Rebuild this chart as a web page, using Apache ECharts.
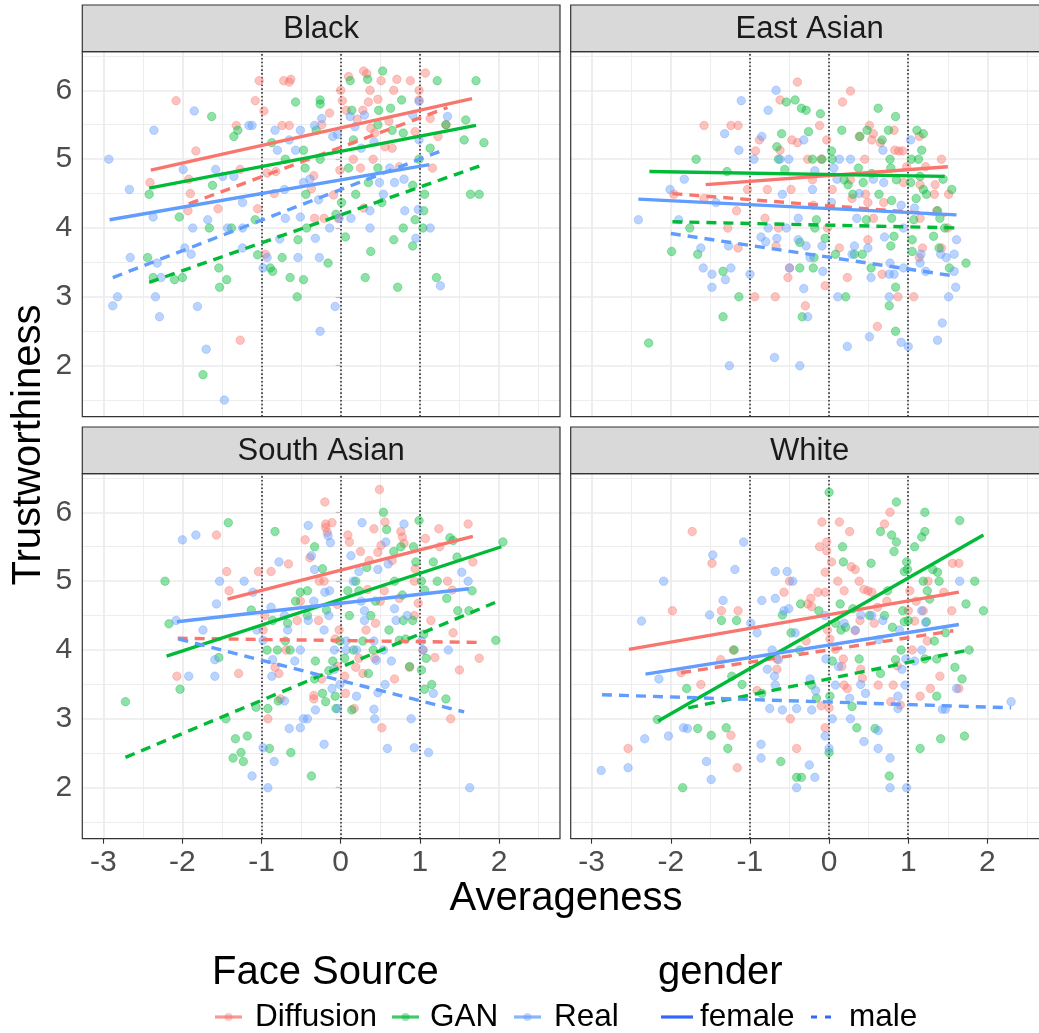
<!DOCTYPE html>
<html><head><meta charset="utf-8">
<script src="https://cdn.jsdelivr.net/npm/echarts@6/dist/echarts.min.js"></script>
<style>html,body{margin:0;padding:0;background:#fff}#c{width:1039px;height:1033px}</style>
</head><body><div id="c"></div>
<script>
// ---------- categories / ticks ----------
const panels = ['Black', 'East Asian', 'South Asian', 'White'];
const sources = ['Diffusion', 'GAN', 'Real'];
const genders = ['female', 'male'];
const xTicks = [-3, -2, -1, 0, 1, 2];
const yTicks = [2, 3, 4, 5, 6];
const refX = [-1, 0, 1];

// ---------- points [Averageness, Trustworthiness] ----------
const black_Diffusion = [[-2.08,5.85],[-2.41,4.66],[-1.83,5.12],[-1.90,4.50],[-1.93,4.25],[-1.92,4.71],[-1.55,4.28],[-1.27,2.37],[-1.27,4.85],[-1.32,5.49],[-1.08,5.85],[-1.03,6.14],[-0.97,5.70],[-1.05,4.28],[-0.95,3.62],[-0.93,4.80],[-0.84,4.50],[-0.82,4.82],[-0.74,5.49],[-0.65,5.49],[-0.72,6.14],[-0.63,6.16],[-0.65,6.12],[-0.34,4.76],[-0.37,4.57],[-0.33,4.14],[-0.21,4.14],[-0.24,5.50],[-0.14,5.67],[-0.09,4.48],[-0.03,4.14],[0.00,6.00],[0.02,5.85],[-0.01,4.84],[0.07,5.71],[0.10,6.20],[0.16,5.00],[0.21,5.58],[0.25,4.87],[0.28,5.71],[0.29,6.28],[0.33,6.24],[0.29,4.29],[0.37,6.00],[0.35,5.83],[0.41,5.00],[0.47,5.87],[0.51,6.14],[0.56,5.18],[0.65,5.16],[0.67,6.00],[0.71,6.16],[0.88,6.14],[0.74,4.89],[0.99,6.00],[1.07,6.25],[0.99,5.86],[1.13,5.59],[1.23,5.33],[1.16,4.87],[1.33,5.50],[0.94,5.40],[0.43,5.38],[0.38,5.45],[0.61,5.55]];
const black_GAN = [[-2.42,4.49],[-2.44,3.57],[-2.37,3.28],[-2.10,3.25],[-2.00,3.28],[-2.04,4.16],[-1.63,5.62],[-1.62,4.62],[-1.66,4.00],[-1.54,3.42],[-1.53,3.14],[-1.44,3.25],[-1.74,1.87],[-1.35,5.33],[-1.30,5.42],[-1.38,4.00],[-1.08,4.12],[-1.05,3.61],[-0.89,3.42],[-0.86,3.37],[-0.87,5.24],[-0.74,3.57],[-0.70,5.00],[-0.64,3.28],[-0.57,5.83],[-0.54,3.83],[-0.55,3.00],[-0.47,3.25],[-0.47,5.13],[-0.45,4.87],[-0.44,4.49],[-0.43,4.00],[-0.31,5.42],[-0.26,5.86],[-0.26,5.80],[-0.26,5.00],[-0.16,3.49],[-0.06,4.20],[0.01,4.37],[0.06,3.87],[0.12,6.14],[0.14,5.71],[0.10,4.87],[0.19,4.49],[0.16,5.28],[0.31,3.28],[0.34,6.16],[0.35,4.66],[0.38,3.66],[0.47,4.87],[0.48,5.71],[0.53,6.28],[0.52,4.37],[0.63,5.74],[0.65,5.42],[0.67,3.83],[0.72,3.14],[0.77,5.86],[0.79,4.00],[0.91,3.74],[0.91,4.62],[0.94,4.12],[0.99,5.00],[1.04,4.00],[1.06,4.49],[1.05,4.25],[1.13,5.16],[1.21,3.28],[1.22,6.14],[1.33,5.50],[1.56,5.28],[1.58,5.57],[1.64,4.49],[1.71,6.14],[1.75,4.49],[1.81,5.24],[0.47,5.50],[0.79,5.38]];
const black_Real = [[-2.93,5.00],[-2.88,2.87],[-2.82,3.00],[-2.67,4.56],[-2.66,3.57],[-2.36,5.42],[-2.37,4.16],[-2.32,3.49],[-2.34,3.00],[-2.29,2.71],[-2.27,3.28],[-1.99,4.85],[-1.97,3.71],[-1.89,3.62],[-1.87,4.00],[-1.85,5.70],[-1.81,2.86],[-1.70,2.24],[-1.68,4.12],[-1.58,4.85],[-1.49,4.75],[-1.43,4.00],[-1.47,1.50],[-1.35,4.75],[-1.24,4.37],[-1.24,4.00],[-1.24,3.71],[-1.16,5.49],[-1.12,5.49],[-0.98,3.42],[-0.93,3.57],[-0.83,5.42],[-0.80,5.13],[-0.77,3.84],[-0.70,4.14],[-0.71,4.56],[-0.65,5.28],[-0.57,5.13],[-0.54,3.57],[-0.51,5.42],[-0.51,4.16],[-0.47,4.66],[-0.39,4.71],[-0.32,3.85],[-0.33,5.49],[-0.28,4.41],[-0.27,3.57],[-0.26,2.50],[-0.24,5.59],[-0.14,4.00],[-0.10,5.33],[-0.07,2.86],[-0.04,5.36],[-0.02,4.14],[0.13,4.14],[0.12,5.62],[0.18,5.47],[0.26,5.16],[0.30,5.64],[0.37,4.25],[0.37,4.00],[0.42,5.25],[0.49,4.66],[0.54,4.49],[0.62,4.87],[0.68,4.66],[0.81,4.25],[0.80,4.71],[0.91,5.64],[0.95,3.85],[0.98,4.27],[0.99,5.84],[0.99,5.28],[1.13,4.00],[1.26,3.16],[1.35,5.62]];

const eastAsian_Diffusion = [[-1.58,5.49],[-1.24,5.49],[-1.15,5.49],[-1.96,4.49],[-1.58,4.43],[-1.17,4.25],[-1.28,4.00],[-1.15,3.71],[-1.03,4.56],[-0.94,3.00],[-0.93,5.12],[-0.88,5.28],[-0.78,4.56],[-0.81,4.14],[-0.68,3.00],[-0.67,3.74],[-0.62,5.86],[-0.62,5.13],[-0.64,4.00],[-0.52,3.28],[-0.50,3.42],[-0.48,4.56],[-0.47,5.28],[-0.40,6.12],[-0.40,5.24],[-0.30,2.87],[-0.27,5.00],[-0.21,4.70],[-0.20,4.33],[-0.12,5.49],[-0.10,5.00],[-0.05,3.16],[-0.03,5.28],[0.04,4.56],[-0.02,4.00],[0.13,3.71],[0.17,5.83],[0.23,3.28],[0.27,5.99],[0.27,4.70],[0.29,4.43],[0.38,5.33],[0.45,5.00],[0.46,4.49],[0.49,4.37],[0.49,3.83],[0.51,5.49],[0.54,5.28],[0.56,5.37],[0.56,4.14],[0.61,2.57],[0.65,5.24],[0.67,3.33],[0.69,4.37],[0.82,5.42],[0.83,5.13],[0.88,5.12],[0.93,5.12],[0.87,3.00],[0.94,4.66],[0.98,4.89],[1.07,3.00],[1.14,5.33],[1.15,4.63],[1.18,3.71],[1.14,3.57],[1.22,4.89],[1.33,4.49],[1.34,4.63],[1.42,5.00],[1.51,4.49],[1.50,4.00],[1.42,3.71],[1.36,4.25],[1.15,4.14]];
const eastAsian_GAN = [[-2.28,2.33],[-1.99,3.66],[-1.76,4.00],[-1.68,5.00],[-1.66,3.62],[-1.34,3.37],[-1.34,2.71],[-1.29,4.82],[-1.14,3.00],[-0.66,5.18],[-0.64,5.00],[-0.60,5.37],[-0.56,4.85],[-0.54,5.83],[-0.43,5.86],[-0.37,3.42],[-0.37,3.79],[-0.35,5.74],[-0.34,2.71],[-0.29,5.71],[-0.26,5.40],[-0.21,5.00],[-0.20,3.42],[-0.19,3.57],[-0.18,4.00],[-0.16,4.12],[-0.11,5.66],[-0.09,5.00],[-0.05,3.85],[0.03,5.12],[0.04,5.00],[0.08,3.62],[0.16,5.42],[0.19,4.70],[0.21,3.00],[0.24,4.63],[0.30,4.49],[0.32,3.62],[0.37,4.87],[0.39,5.33],[0.42,3.62],[0.43,4.66],[0.47,4.12],[0.48,5.42],[0.53,3.42],[0.54,4.79],[0.62,5.74],[0.63,4.49],[0.67,5.28],[0.75,5.42],[0.77,5.00],[0.78,4.87],[0.79,4.14],[0.78,3.74],[0.79,4.40],[0.76,2.87],[0.82,3.88],[0.84,5.62],[0.84,3.14],[0.84,2.50],[0.85,4.70],[1.03,4.66],[1.04,5.00],[1.05,3.83],[1.05,3.66],[1.07,4.12],[1.10,4.43],[1.11,5.42],[1.13,5.00],[1.15,4.75],[1.17,5.13],[1.19,5.37],[1.19,4.56],[1.23,4.49],[1.32,3.88],[1.37,4.25],[1.39,3.71],[1.44,4.71],[1.46,4.00],[1.52,3.42],[1.55,4.56],[1.73,3.49],[1.40,4.14]];
const eastAsian_Real = [[-2.41,4.12],[-2.01,4.56],[-1.90,4.12],[-1.83,4.71],[-1.62,3.71],[-1.59,3.42],[-1.48,3.33],[-1.48,3.14],[-1.43,4.37],[-1.32,5.37],[-1.31,3.25],[-1.27,3.74],[-1.26,2.00],[-1.24,3.42],[-1.14,5.13],[-1.11,5.85],[-1.00,3.33],[-0.95,5.00],[-0.86,3.87],[-0.85,5.33],[-0.80,3.80],[-0.77,5.71],[-0.77,4.00],[-0.69,2.12],[-0.67,6.00],[-0.66,3.85],[-0.62,5.00],[-0.59,4.49],[-0.54,4.00],[-0.51,5.00],[-0.50,3.42],[-0.39,4.14],[-0.39,3.83],[-0.37,2.00],[-0.32,5.28],[-0.32,3.12],[-0.29,3.74],[-0.27,2.71],[-0.24,3.57],[-0.21,4.56],[-0.18,4.83],[-0.09,3.74],[-0.08,3.37],[0.03,4.37],[0.06,4.87],[0.10,4.71],[0.11,3.00],[0.13,5.00],[0.23,2.28],[0.27,5.00],[0.29,3.62],[0.32,3.74],[0.35,4.14],[0.38,4.50],[0.49,3.71],[0.51,2.42],[0.53,3.28],[0.56,4.71],[0.68,5.13],[0.69,4.66],[0.70,3.87],[0.76,3.33],[0.77,3.49],[0.76,3.00],[0.82,3.33],[0.91,4.33],[0.91,2.34],[0.94,4.00],[0.94,3.42],[1.00,2.28],[1.03,5.28],[1.08,4.29],[1.15,3.49],[1.16,3.62],[1.22,3.37],[1.37,2.37],[1.41,3.62],[1.43,2.62],[1.48,3.57],[1.51,3.00],[1.58,3.62],[1.58,3.37],[1.60,3.14],[1.61,3.83]];

const southAsian_Diffusion = [[-2.07,3.62],[-1.57,5.67],[-1.44,5.14],[-1.41,4.86],[-1.29,3.66],[-1.04,5.14],[-0.98,4.29],[-0.96,4.50],[-0.92,3.00],[-0.88,5.14],[-0.83,3.75],[-0.78,3.66],[-0.76,3.29],[-0.69,4.00],[-0.66,5.25],[-0.55,4.43],[-0.51,4.71],[-0.45,5.60],[-0.39,5.34],[-0.34,3.29],[-0.34,3.34],[-0.28,4.43],[-0.27,5.00],[-0.24,3.58],[-0.21,5.00],[-0.20,6.15],[-0.19,5.83],[-0.19,5.78],[-0.17,5.71],[-0.11,5.85],[-0.07,4.16],[-0.04,3.76],[-0.02,4.29],[-0.04,4.66],[0.05,3.62],[0.06,3.37],[0.09,5.67],[0.11,5.57],[0.17,3.15],[0.19,3.75],[0.23,3.88],[0.25,5.43],[0.28,3.66],[0.32,4.29],[0.34,4.88],[0.36,5.30],[0.42,5.76],[0.44,4.39],[0.43,3.88],[0.47,5.42],[0.49,6.33],[0.50,4.71],[0.51,5.52],[0.52,2.87],[0.55,4.86],[0.56,5.86],[0.65,5.30],[0.68,3.58],[0.74,4.75],[0.76,5.72],[0.78,5.64],[0.80,5.55],[0.87,3.75],[0.93,4.50],[0.94,5.18],[0.93,5.00],[0.98,4.68],[1.04,4.00],[1.07,5.62],[1.14,4.43],[1.19,3.89],[1.24,5.76],[1.25,5.50],[1.35,5.00],[1.39,3.00],[1.42,4.25],[1.41,4.87],[1.50,3.71],[1.61,5.83],[1.67,5.28],[1.75,3.88]];
const southAsian_GAN = [[-2.72,3.25],[-2.22,5.00],[-2.17,4.38],[-2.03,3.43],[-1.54,3.89],[-1.45,3.00],[-1.42,5.85],[-1.36,2.43],[-1.33,2.71],[-1.26,2.51],[-1.23,2.38],[-1.18,2.75],[-1.13,4.58],[-1.07,3.17],[-0.93,4.00],[-0.92,3.15],[-0.90,2.57],[-0.86,4.43],[-0.83,5.72],[-0.80,4.00],[-0.79,3.26],[-0.70,4.13],[-0.67,4.39],[-0.64,4.00],[-0.63,2.51],[-0.57,4.71],[-0.51,4.84],[-0.42,4.86],[-0.42,4.50],[-0.37,2.17],[-0.33,3.58],[-0.33,5.50],[-0.32,3.84],[-0.23,5.18],[-0.23,3.37],[-0.19,3.25],[-0.18,4.58],[-0.15,3.70],[-0.10,3.84],[-0.07,3.33],[-0.06,3.15],[-0.01,4.13],[0.05,3.88],[0.09,4.86],[0.11,4.50],[0.14,3.13],[0.16,4.00],[0.19,5.00],[0.23,4.86],[0.28,4.13],[0.33,5.20],[0.35,3.66],[0.38,4.50],[0.41,4.00],[0.44,4.71],[0.54,6.00],[0.58,5.75],[0.61,4.29],[0.67,5.43],[0.68,5.00],[0.74,4.14],[0.76,5.50],[0.78,4.80],[0.79,4.43],[0.82,4.16],[0.87,3.76],[0.91,4.43],[0.92,5.50],[0.95,5.28],[0.99,5.88],[1.02,5.00],[1.02,3.71],[1.05,4.23],[1.06,4.87],[1.06,3.43],[1.08,3.88],[1.15,3.50],[1.17,5.28],[1.22,5.00],[1.33,3.29],[1.34,4.75],[1.38,5.63],[1.42,5.59],[1.47,5.35],[1.48,4.57],[1.62,4.57],[1.66,4.86],[1.96,4.14],[2.05,5.57]];
const southAsian_Real = [[-2.08,4.43],[-2.00,5.60],[-1.92,3.62],[-1.83,5.67],[-1.74,4.29],[-1.59,3.62],[-1.59,3.86],[-1.57,4.67],[-1.53,5.00],[-1.22,5.00],[-1.12,2.17],[-1.11,4.84],[-1.06,4.29],[-0.98,2.58],[-0.98,4.14],[-0.92,2.00],[-0.88,4.62],[-0.87,3.62],[-0.86,3.86],[-0.84,2.38],[-0.78,5.28],[-0.71,3.26],[-0.71,4.50],[-0.67,4.29],[-0.65,2.86],[-0.58,3.84],[-0.51,4.00],[-0.51,2.87],[-0.47,3.00],[-0.42,3.00],[-0.41,5.81],[-0.41,4.43],[-0.37,5.37],[-0.34,4.71],[-0.33,5.17],[-0.32,3.13],[-0.21,4.29],[-0.21,2.63],[-0.20,4.84],[-0.16,5.66],[-0.15,4.50],[-0.14,4.86],[-0.13,5.56],[-0.11,3.44],[-0.08,4.00],[-0.08,3.72],[-0.04,3.15],[-0.01,3.50],[0.07,4.13],[0.07,4.00],[0.13,5.37],[0.16,5.00],[0.20,3.33],[0.23,5.14],[0.20,4.00],[0.26,4.71],[0.27,5.85],[0.30,4.43],[0.30,4.57],[0.42,4.13],[0.42,3.14],[0.43,3.00],[0.45,3.85],[0.47,3.38],[0.47,5.17],[0.54,4.00],[0.56,3.50],[0.57,5.57],[0.59,2.57],[0.60,5.25],[0.64,3.84],[0.68,4.60],[0.70,4.43],[0.80,5.83],[0.84,4.50],[0.89,3.00],[0.93,2.58],[1.02,4.13],[1.04,4.00],[1.11,2.51],[1.17,3.37],[1.36,4.00],[1.53,5.13],[1.61,5.00],[1.63,2.00]];

const white_Diffusion = [[-2.54,2.57],[-1.98,4.57],[-1.87,3.67],[-1.73,5.72],[-1.62,3.50],[-1.48,5.26],[-1.37,3.86],[-1.36,4.57],[-1.24,2.76],[-1.21,4.00],[-1.16,2.29],[-1.15,4.57],[-0.91,3.41],[-0.66,3.72],[-0.66,3.87],[-0.57,4.84],[-0.50,5.00],[-0.49,3.00],[-0.41,2.57],[-0.29,4.13],[-0.27,4.67],[-0.23,4.75],[-0.22,4.63],[-0.14,4.84],[-0.12,5.50],[-0.10,3.19],[-0.09,5.86],[-0.05,5.13],[-0.05,4.84],[-0.05,2.87],[-0.03,5.57],[-0.03,5.44],[-0.02,4.29],[0.00,3.16],[0.01,4.16],[0.03,5.28],[0.08,4.01],[0.11,5.00],[0.13,5.86],[0.16,3.76],[0.18,3.87],[0.19,4.86],[0.19,3.49],[0.23,3.44],[0.26,5.72],[0.28,5.21],[0.33,5.17],[0.33,4.28],[0.38,5.00],[0.39,4.43],[0.40,3.72],[0.42,3.59],[0.44,4.88],[0.49,4.86],[0.54,4.84],[0.57,4.39],[0.62,3.49],[0.61,4.62],[0.70,5.83],[0.73,4.71],[0.77,6.00],[0.78,3.25],[0.81,3.49],[0.86,3.77],[0.90,3.20],[1.00,4.57],[1.02,4.86],[1.05,4.00],[1.08,4.42],[1.10,4.71],[1.15,3.33],[1.19,4.57],[1.24,4.13],[1.25,5.00],[1.28,3.44],[1.40,3.62],[1.45,4.84],[1.55,4.57],[1.56,5.26],[1.64,5.26],[1.64,3.44]];
const white_GAN = [[-2.17,2.99],[-1.85,2.00],[-1.80,3.44],[-1.66,2.86],[-1.49,2.76],[-1.36,4.43],[-1.30,2.87],[-1.28,2.57],[-1.23,3.62],[-1.20,4.00],[-1.17,4.43],[-1.10,3.50],[-0.85,3.37],[-0.61,2.38],[-0.59,4.51],[-0.48,4.25],[-0.41,2.15],[-0.36,4.67],[-0.35,2.15],[-0.37,4.00],[-0.22,3.49],[-0.16,3.30],[-0.13,4.57],[0.00,6.29],[0.01,3.33],[0.00,2.51],[0.04,3.84],[0.08,4.39],[0.14,4.67],[0.15,4.29],[0.17,5.50],[0.18,5.28],[0.21,4.33],[0.29,3.18],[0.30,4.60],[0.35,2.87],[0.38,3.87],[0.51,4.50],[0.53,5.26],[0.58,2.86],[0.65,5.72],[0.65,3.66],[0.70,4.50],[0.74,4.86],[0.76,2.17],[0.79,5.67],[0.80,4.33],[0.82,5.43],[0.85,5.57],[0.85,6.15],[0.84,3.86],[0.91,4.00],[0.93,4.57],[0.95,5.14],[0.95,4.41],[0.98,5.28],[0.99,5.17],[1.00,4.43],[1.08,5.50],[1.15,2.57],[1.17,5.64],[1.19,5.00],[1.21,3.87],[1.21,5.72],[1.21,6.00],[1.23,4.41],[1.24,4.86],[1.27,4.74],[1.31,5.17],[1.33,4.13],[1.36,3.87],[1.36,3.33],[1.37,5.13],[1.39,5.00],[1.41,2.71],[1.47,4.25],[1.59,3.75],[1.65,5.88],[1.68,3.58],[1.71,2.75],[1.73,4.67],[1.77,4.00],[1.84,5.00],[1.95,4.57]];
const white_Real = [[-2.88,2.25],[-2.54,2.29],[-2.37,4.42],[-2.33,2.71],[-2.15,3.58],[-2.09,5.00],[-2.03,2.75],[-1.84,2.87],[-1.79,2.86],[-1.55,2.38],[-1.51,4.51],[-1.49,2.12],[-1.47,5.38],[-1.34,4.72],[-1.19,5.17],[-1.08,5.57],[-0.99,4.39],[-0.91,4.25],[-0.86,2.63],[-0.86,2.43],[-0.85,4.72],[-0.78,3.72],[-0.75,3.15],[-0.72,4.00],[-0.68,5.14],[-0.68,4.75],[-0.69,3.62],[-0.68,3.49],[-0.64,3.86],[-0.59,3.13],[-0.57,4.57],[-0.53,5.14],[-0.51,4.60],[-0.46,5.00],[-0.43,4.25],[-0.41,3.15],[-0.41,2.00],[-0.25,2.33],[-0.24,3.58],[-0.22,3.13],[-0.18,2.15],[-0.17,3.41],[-0.05,4.50],[-0.05,2.75],[-0.04,3.87],[0.00,2.57],[0.04,3.00],[0.08,3.49],[0.12,3.76],[0.19,4.39],[0.26,3.30],[0.27,3.00],[0.33,4.29],[0.40,4.51],[0.40,3.50],[0.44,2.67],[0.46,3.37],[0.54,4.50],[0.62,2.83],[0.62,2.57],[0.63,4.15],[0.68,4.43],[0.77,2.43],[0.77,2.00],[0.87,3.33],[0.87,3.15],[0.89,4.29],[0.92,3.72],[0.96,3.49],[0.98,2.00],[0.97,3.87],[1.08,3.84],[1.17,4.00],[1.17,4.57],[1.22,4.40],[1.43,3.14],[1.47,3.14],[1.61,3.44],[1.65,5.00],[2.30,3.25]];

// ---------- fitted lines: rows = Diffusion f, Diffusion m, GAN f, GAN m, Real f, Real m ; [x1, y1, x2, y2] ----------
const fit_Black      = [[-2.40,4.84,1.66,5.88],[-1.92,4.35,1.35,5.75],[-2.42,4.58,1.71,5.49],[-2.42,3.21,1.78,4.91],[-2.92,4.12,1.12,4.92],[-2.88,3.28,1.29,5.13]];
const fit_EastAsian  = [[-1.56,4.63,1.50,4.89],[-1.98,4.50,1.48,4.19],[-2.27,4.82,1.46,4.75],[-1.98,4.09,1.67,4.00],[-2.41,4.42,1.61,4.19],[-2.00,3.92,1.60,3.30]];
const fit_SouthAsian = [[-1.43,4.74,1.67,5.65],[-2.06,4.17,1.74,4.11],[-2.20,3.91,2.03,5.50],[-2.72,2.44,1.95,4.69],[-2.07,4.41,1.62,4.89],[-2.05,4.16,1.56,3.10]];
const fit_White      = [[-2.53,4.01,1.64,4.84],[-1.87,3.67,1.57,4.28],[-2.16,2.97,1.95,5.67],[-1.78,3.16,1.80,4.01],[-2.32,3.65,1.64,4.37],[-2.87,3.35,2.30,3.16]];

// ---------- build ----------
const COLORS = ['#F8766D', '#00BA38', '#619CFF'];
const FONT = '"Liberation Sans", Arial, Helvetica, sans-serif';
const pointSets = [[black_Diffusion, black_GAN, black_Real],[eastAsian_Diffusion, eastAsian_GAN, eastAsian_Real],[southAsian_Diffusion, southAsian_GAN, southAsian_Real],[white_Diffusion, white_GAN, white_Real]];
const fitSets = [fit_Black, fit_EastAsian, fit_SouthAsian, fit_White];

const XMIN = -3.265, XMAX = 2.771, YMIN = 1.259, YMAX = 6.561;
const LEFTS = [82.3, 570.7], TOPS = [51.7, 473.7], PW = 477.7, PH = 365, STRIP = 46.7;
const DASH = [10, 7];

const xMinor = xTicks.map(v => v + 0.5);
const yMinor = [yTicks[0] - 0.5].concat(yTicks.map(v => v + 0.5));

const grids = [], xAxes = [], yAxes = [], series = [], graphics = [];
panels.forEach((name, i) => {
  const col = i % 2, row = Math.floor(i / 2);
  const left = LEFTS[col], top = TOPS[row];
  grids.push({ left: left, top: top, width: PW, height: PH, show: false, containLabel: false, outerBoundsMode: 'none' });
  xAxes.push({
    gridIndex: i, type: 'value', min: XMIN, max: XMAX,
    axisLine: { show: false }, splitLine: { show: false },
    axisTick: { show: row === 1, customValues: xTicks, length: 5, lineStyle: { color: '#333333', width: 1.1 } },
    axisLabel: { show: row === 1, customValues: xTicks, margin: 9, color: '#4D4D4D', fontSize: 30, fontFamily: FONT }
  });
  yAxes.push({
    gridIndex: i, type: 'value', min: YMIN, max: YMAX,
    axisLine: { show: false }, splitLine: { show: false },
    axisTick: { show: col === 0, customValues: yTicks, length: 5, lineStyle: { color: '#333333', width: 1.1 } },
    axisLabel: { show: col === 0, customValues: yTicks, margin: 10, color: '#4D4D4D', fontSize: 30, fontFamily: FONT }
  });
  // panel grid lines
  const gl = [];
  xMinor.forEach(v => gl.push({ xAxis: v, lineStyle: { width: 0.9 } }));
  yMinor.forEach(v => gl.push({ yAxis: v, lineStyle: { width: 0.9 } }));
  xTicks.forEach(v => gl.push({ xAxis: v, lineStyle: { width: 1.7 } }));
  yTicks.forEach(v => gl.push({ yAxis: v, lineStyle: { width: 1.7 } }));
  series.push({
    type: 'line', xAxisIndex: i, yAxisIndex: i, data: [[XMIN, YMIN]], showSymbol: false, symbol: 'none',
    lineStyle: { opacity: 0 }, silent: true, z: 1, animation: false,
    markLine: { silent: true, symbol: ['none', 'none'], label: { show: false }, animation: false, z: 1,
      emphasis: { disabled: true },
      lineStyle: { color: '#EBEBEB', type: 'solid' }, data: gl }
  });
  // dotted reference lines
  series.push({
    type: 'line', xAxisIndex: i, yAxisIndex: i, data: [[XMIN, YMIN]], showSymbol: false, symbol: 'none',
    lineStyle: { opacity: 0 }, silent: true, z: 2, animation: false,
    markLine: { silent: true, symbol: ['none', 'none'], label: { show: false }, animation: false, z: 2,
      emphasis: { disabled: true },
      lineStyle: { color: '#333333', type: [1.6, 2.2], width: 1.6 }, data: refX.map(v => ({ xAxis: v })) }
  });
  // points
  sources.forEach((s, k) => {
    series.push({
      type: 'scatter', xAxisIndex: i, yAxisIndex: i, data: pointSets[i][k], symbol: 'circle', symbolSize: 8.5,
      silent: true, animation: false, z: 3,
      itemStyle: { color: COLORS[k], opacity: 0.44, borderColor: COLORS[k], borderWidth: 0.8 }
    });
  });
  // fitted lines
  fitSets[i].forEach((f, j) => {
    const k = Math.floor(j / 2), male = j % 2 === 1;
    series.push({
      type: 'line', xAxisIndex: i, yAxisIndex: i, data: [[f[0], f[1]], [f[2], f[3]]],
      showSymbol: false, symbol: 'none', silent: true, animation: false, z: 4,
      lineStyle: { color: COLORS[k], width: 3.4, type: male ? DASH : 'solid', cap: 'butt' }
    });
  });
  // strip + border
  graphics.push({ type: 'rect', shape: { x: left, y: top - STRIP, width: PW, height: STRIP },
    style: { fill: '#D9D9D9', stroke: '#333333', lineWidth: 1.2 }, z: 10, silent: true });
  graphics.push({ type: 'text', x: left + PW / 2, y: top - STRIP / 2 + 1, z: 11, silent: true,
    style: { text: name, fontSize: 31, fontFamily: FONT, fill: '#1A1A1A', align: 'center', verticalAlign: 'middle' } });
  graphics.push({ type: 'rect', shape: { x: left, y: top, width: PW, height: PH },
    style: { fill: null, stroke: '#333333', lineWidth: 1.2 }, z: 10, silent: true });
});

// axis titles
graphics.push({ type: 'text', x: 566, y: 899, z: 11, silent: true,
  style: { text: 'Averageness', fontSize: 40, fontFamily: FONT, fill: '#000', align: 'center', verticalAlign: 'middle' } });
graphics.push({ type: 'text', x: 29, y: 445, rotation: Math.PI / 2, z: 11, silent: true,
  style: { text: 'Trustworthiness', fontSize: 40, fontFamily: FONT, fill: '#000', align: 'center', verticalAlign: 'middle' } });

// legend
const legY = 1017;
graphics.push({ type: 'text', x: 212, y: 973, z: 11, silent: true,
  style: { text: 'Face Source', fontSize: 40, fontFamily: FONT, fill: '#000', align: 'left', verticalAlign: 'middle' } });
graphics.push({ type: 'text', x: 658, y: 973, z: 11, silent: true,
  style: { text: 'gender', fontSize: 40, fontFamily: FONT, fill: '#000', align: 'left', verticalAlign: 'middle' } });
const srcKeyX = [215, 392, 514], srcTextX = [255, 430, 554];
sources.forEach((s, k) => {
  graphics.push({ type: 'line', shape: { x1: srcKeyX[k], y1: legY, x2: srcKeyX[k] + 27, y2: legY }, z: 11, silent: true,
    style: { stroke: COLORS[k], lineWidth: 3.2, opacity: 0.75 } });
  graphics.push({ type: 'circle', shape: { cx: srcKeyX[k] + 13.5, cy: legY, r: 4 }, z: 12, silent: true,
    style: { fill: COLORS[k], opacity: 0.4 } });
  graphics.push({ type: 'text', x: srcTextX[k], y: legY, z: 11, silent: true,
    style: { text: s, fontSize: 31.5, fontFamily: FONT, fill: '#000', align: 'left', verticalAlign: 'middle' } });
});
const gKeyX = [661, 811], gTextX = [700, 849];
genders.forEach((g, j) => {
  graphics.push({ type: 'line', shape: { x1: gKeyX[j], y1: legY, x2: gKeyX[j] + (j ? 23 : 32), y2: legY }, z: 11, silent: true,
    style: { stroke: '#3366FF', lineWidth: 3.2, lineDash: j ? [6, 8] : null } });
  graphics.push({ type: 'text', x: gTextX[j], y: legY, z: 11, silent: true,
    style: { text: g, fontSize: 31.5, fontFamily: FONT, fill: '#000', align: 'left', verticalAlign: 'middle' } });
});

const chart = echarts.init(document.getElementById('c'), null, { renderer: 'canvas' });
chart.setOption({
  backgroundColor: '#ffffff',
  animation: false,
  grid: grids, xAxis: xAxes, yAxis: yAxes, series: series, graphic: graphics
});
</script>
</body></html>
